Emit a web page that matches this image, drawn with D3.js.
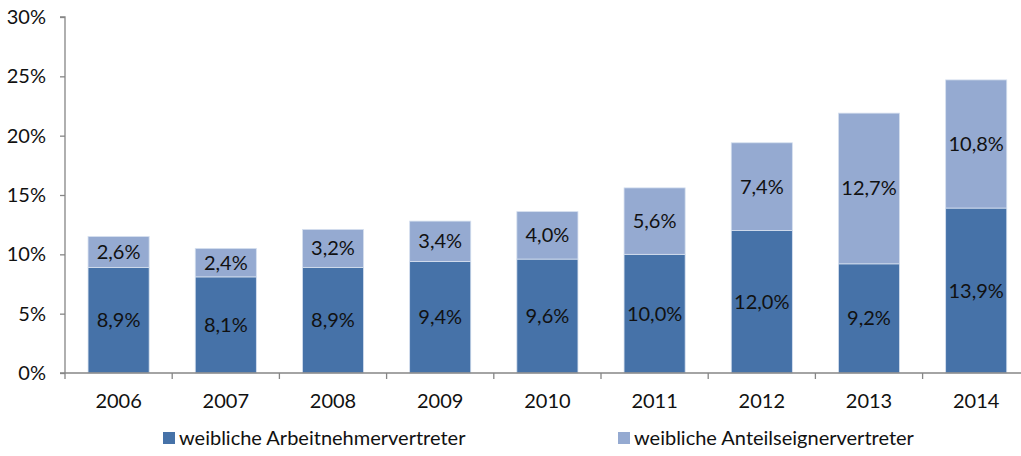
<!DOCTYPE html>
<html>
<head>
<meta charset="utf-8">
<script src="https://cdn.jsdelivr.net/npm/d3@7"></script>
<style>
  body { margin: 0; background: #fff; overflow: hidden; }
  text { font-family: Lato, "Open Sans", sans-serif; fill: #111; }
</style>
</head>
<body>
<div id="container"></div>
<script>
// Data
const years = ["2006", "2007", "2008", "2009", "2010", "2011", "2012", "2013", "2014"];
const arbeitnehmer = [8.9, 8.1, 8.9, 9.4, 9.6, 10.0, 12.0, 9.2, 13.9];
const anteilseigner = [2.6, 2.4, 3.2, 3.4, 4.0, 5.6, 7.4, 12.7, 10.8];
const seriesNames = ["weibliche Arbeitnehmervertreter", "weibliche Anteilseignervertreter"];
const yTicks = [0, 5, 10, 15, 20, 25, 30];

const width = 1021;
const height = 456;
const marginLeft = 65;
const marginTop = 17;
const plotBottom = 373;
const fontSize = 20;
const colors = ["#4672a8", "#95aad1"];

const x = d3.scaleBand()
  .domain(years)
  .range([marginLeft, marginLeft + 9 * 107.2])
  .paddingInner(0.43)
  .paddingOuter(0.215);

const y = d3.scaleLinear()
  .domain([0, 30])
  .range([plotBottom, marginTop]);

const fmt = v => d3.format(".1f")(v).replace(".", ",") + "%";

const rows = years.map((yr, i) => ({ year: yr, a: arbeitnehmer[i], b: anteilseigner[i] }));
const stack = d3.stack().keys(["a", "b"])(rows);

const svg = d3.select("#container").append("svg")
  .attr("width", width)
  .attr("height", height);

// bars
svg.append("g").selectAll("g")
  .data(stack)
  .join("g")
  .attr("fill", (d, i) => colors[i])
  .selectAll("rect")
  .data(d => d)
  .join("rect")
  .attr("x", d => x(d.data.year))
  .attr("width", x.bandwidth())
  .attr("y", d => y(d[1]))
  .attr("height", d => y(d[0]) - y(d[1]))
  .attr("stroke", "#d6e0ef")
  .attr("stroke-width", 0.8);

// segment labels
svg.append("g").selectAll("g")
  .data(stack)
  .join("g")
  .selectAll("text")
  .data(d => d)
  .join("text")
  .attr("x", d => x(d.data.year) + x.bandwidth() / 2)
  .attr("y", d => (y(d[0]) + y(d[1])) / 2)
  .attr("dy", "0.35em")
  .attr("text-anchor", "middle")
  .attr("font-size", fontSize)
  .text(d => fmt(d[1] - d[0]));

// y axis
const yAxis = svg.append("g")
  .attr("transform", `translate(${marginLeft},0)`)
  .call(d3.axisLeft(y).tickValues(yTicks).tickSize(5).tickPadding(14).tickFormat(d => d + "%"));
yAxis.selectAll("path, line").attr("stroke", "#868686").attr("stroke-width", 1.3);
yAxis.select(".domain").attr("d", `M-5,${marginTop}H0V${plotBottom}`);
yAxis.selectAll("text").attr("font-size", fontSize).attr("font-family", "Lato, sans-serif").attr("fill", "#111");

// x axis
const xAxis = svg.append("g")
  .attr("transform", `translate(0,${plotBottom})`);
xAxis.append("line")
  .attr("x1", marginLeft - 5).attr("x2", x.range()[1])
  .attr("stroke", "#868686").attr("stroke-width", 1.3);
const step = x.step();
xAxis.selectAll(".tk")
  .data(d3.range(years.length + 1))
  .join("line")
  .attr("class", "tk")
  .attr("x1", i => marginLeft + i * step)
  .attr("x2", i => marginLeft + i * step)
  .attr("y1", 0).attr("y2", 6)
  .attr("stroke", "#868686").attr("stroke-width", 1.3);
xAxis.selectAll(".lbl")
  .data(years)
  .join("text")
  .attr("class", "lbl")
  .attr("x", d => x(d) + x.bandwidth() / 2)
  .attr("y", 28)
  .attr("dy", "0.35em")
  .attr("text-anchor", "middle")
  .attr("font-size", fontSize)
  .text(d => d);

// legend
const legendX = [163, 618];
const legend = svg.append("g").selectAll("g")
  .data(seriesNames)
  .join("g")
  .attr("transform", (d, i) => `translate(${legendX[i]},438)`);
legend.append("rect")
  .attr("x", 0).attr("y", -6)
  .attr("width", 12).attr("height", 12)
  .attr("fill", (d, i) => colors[i]);
legend.append("text")
  .attr("x", 16)
  .attr("dy", "0.35em")
  .attr("font-size", fontSize)
  .text(d => d);
</script>
</body>
</html>
